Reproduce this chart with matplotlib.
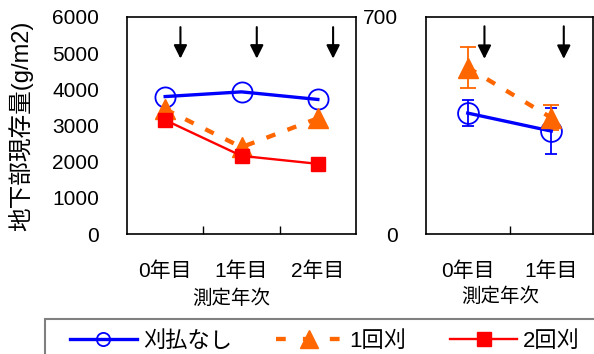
import matplotlib
matplotlib.use("Agg")
import matplotlib.pyplot as plt
from matplotlib.lines import Line2D
from matplotlib.patches import Rectangle

plt.rcParams['font.family'] = ['Liberation Sans', 'Noto Sans CJK JP']

# 地下部現存量 (g/m2)
years3 = ['0年目', '1年目', '2年目']
years2 = ['0年目', '1年目']

# left panel
no_cut_L = [3800, 3930, 3720]
cut1_L = [3450, 2400, 3200]
cut2_L = [3150, 2160, 1940]

# right panel (with error bars)
no_cut_R = [390, 332]
no_cut_R_err = [43, 74]
cut1_R = [537, 375]
cut1_R_err = [66, 40]

# arrow positions (category index + offset)
arrows_L = [0.2, 1.2, 2.2]
arrows_R = [0.2, 1.15]

blue = '#0000ff'
orange = '#ff6600'
red = '#ff0000'

W, H = 594, 354
fig = plt.figure(figsize=(W / 100, H / 100), dpi=100)
axL = fig.add_axes([127/W, 1 - 234/H, 229/W, 217/H])
axR = fig.add_axes([426/W, 1 - 234/H, 167/W, 217/H])

tick_fs = 15
dash = (0, (2.2, 3.0))

x3 = list(range(len(years3)))
axL.plot(x3, no_cut_L, color=blue, lw=2.4, marker='o', ms=14.5, mfc='none',
         mec=blue, mew=1.3)
axL.plot(x3, cut1_L, color=orange, lw=3.1, ls=dash, marker='^', ms=14.5,
         mfc=orange, mec=orange)
axL.plot(x3, cut2_L, color=red, lw=1.7, marker='s', ms=10, mfc=red, mec=red)
axL.set_ylim(0, 6000)
axL.set_yticks(range(0, 6001, 1000))
axL.set_xlim(-0.5, 2.5)
axL.set_xticks([0.5, 1.5])
axL.set_xticklabels([])
axL.set_xticks(x3, minor=True)
axL.set_xticklabels(years3, minor=True)
axL.set_ylabel('地下部現存量(g/m2)', fontsize=17)
axL.yaxis.set_label_coords(-(127 - 21) / 229, 0.5)
axL.yaxis.label.set_va('center')
axL.set_xlabel('測定年次', fontsize=14)
axL.xaxis.set_label_coords((231 - 127) / 229, -(299 - 234) / 217)
axL.xaxis.label.set_va('center')
for xa in arrows_L:
    axL.annotate('', xy=(xa, 4850), xytext=(xa, 5720),
                 arrowprops=dict(arrowstyle='-|>', color='black', lw=1.5,
                                 mutation_scale=20, shrinkA=0, shrinkB=0))

x2 = list(range(len(years2)))
axR.errorbar(x2, no_cut_R, yerr=no_cut_R_err, color=blue, lw=2.4, marker='o',
             ms=15, mfc='none', mec=blue, mew=1.3, capsize=4.5, elinewidth=1.3,
             capthick=1.3)
axR.errorbar(x2, cut1_R, yerr=cut1_R_err, color=orange, lw=3.1, ls=dash,
             marker='^', ms=14, mfc=orange, mec=orange, capsize=5.5,
             elinewidth=1.3, capthick=1.3)
axR.set_ylim(0, 700)
axR.set_yticks([0, 700])
axR.set_xlim(-0.5, 1.5)
axR.set_xticks([0.5])
axR.set_xticklabels([])
axR.set_xticks(x2, minor=True)
axR.set_xticklabels(years2, minor=True)
axR.set_xlabel('測定年次', fontsize=14)
axR.xaxis.set_label_coords((500 - 426) / 167, -(297 - 234) / 217)
axR.xaxis.label.set_va('center')
for xa in arrows_R:
    axR.annotate('', xy=(xa, 565), xytext=(xa, 670),
                 arrowprops=dict(arrowstyle='-|>', color='black', lw=1.5,
                                 mutation_scale=20, shrinkA=0, shrinkB=0))

for ax in (axL, axR):
    ax.tick_params(axis='x', which='major', direction='in', length=6, width=1)
    ax.tick_params(axis='x', which='minor', length=0, pad=20,
                   labelsize=tick_fs)
    ax.tick_params(axis='y', length=0, pad=20, labelsize=tick_fs)
    for s in ax.spines.values():
        s.set_linewidth(1.2)

# legend with its own frame running off the bottom/right edge
fig.patches.append(Rectangle((45/W, -0.1), 1.0, 1 - 319/H + 0.1,
                             transform=fig.transFigure, fill=False,
                             edgecolor='#808080', lw=1.5))
handles = [
    Line2D([], [], color=blue, lw=2.4, marker='o', ms=9.5, mfc='none',
           mec=blue, mew=1.3),
    Line2D([], [], color=orange, lw=3.1, ls=(0, (2.27, 3.98)), marker='^',
           ms=13, mfc=orange, mec=orange),
    Line2D([], [], color=red, lw=1.7, marker='s', ms=9.5, mfc=red, mec=red),
]
fig.legend(handles, ['刈払なし', '1回刈', '2回刈'], loc='center left',
           bbox_to_anchor=(70/W, 1 - 341/H), ncol=3, fontsize=16,
           frameon=False, handlelength=3.0, handletextpad=0.27,
           columnspacing=2.0, borderaxespad=0, borderpad=0)

fig.savefig('out.png', dpi=100)
